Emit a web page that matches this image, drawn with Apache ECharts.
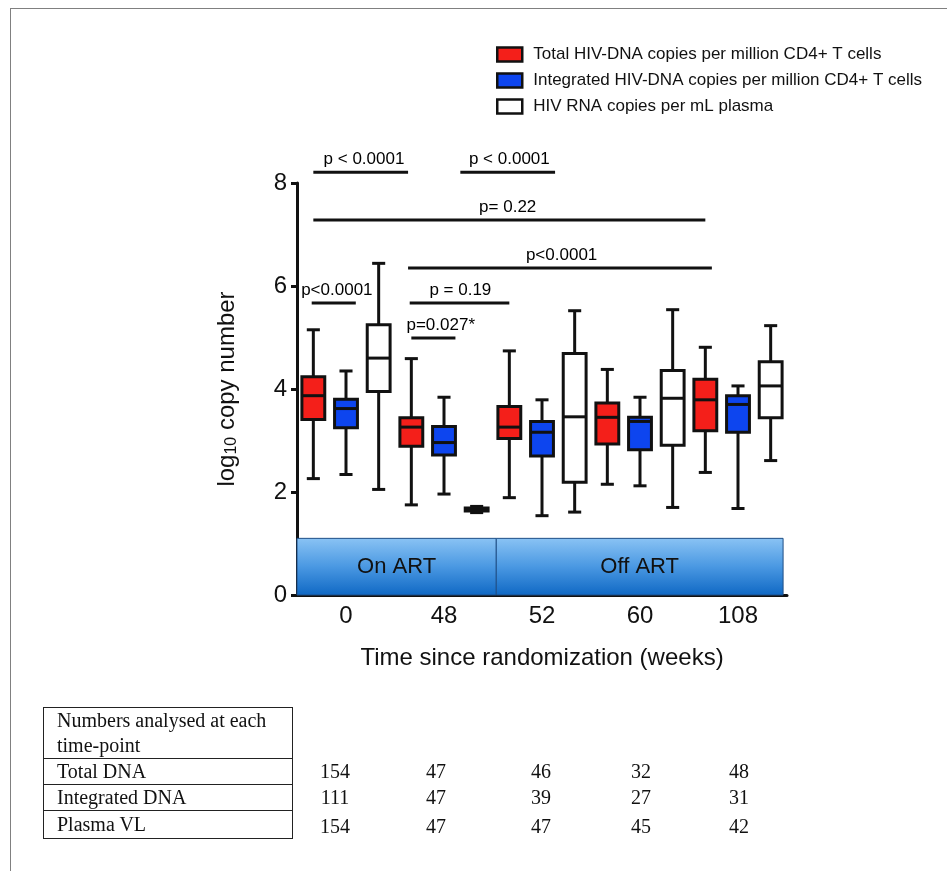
<!DOCTYPE html>
<html>
<head>
<meta charset="utf-8">
<script src="https://cdn.jsdelivr.net/npm/echarts@6/dist/echarts.min.js"></script>
<style>
  html, body { margin: 0; padding: 0; background: #fff; }
  #wrap { position: relative; width: 947px; height: 871px; overflow: hidden; }
  #frame { position: absolute; left: 10px; top: 8px; width: 960px; height: 900px;
           border-left: 1px solid #808080; border-top: 1px solid #808080; }
  #chart { position: absolute; left: 0; top: 0; width: 947px; height: 871px; }
  #tbl { position: absolute; left: 43px; top: 707px; border-collapse: collapse;
         font-family: "Liberation Serif", "Times New Roman", serif; font-size: 20px; color: #111; }
  #tbl td { border: 1.5px solid #222; padding: 0 0 0 13px; width: 235px; line-height: 25px; }
  .num { position: absolute; font-family: "Liberation Serif", "Times New Roman", serif;
         font-size: 20px; color: #111; transform: translate(-50%, -50%); white-space: nowrap; }
</style>
</head>
<body>
<div id="wrap">
  <div id="frame"></div>
  <div id="chart"></div>
</div>
<script>
// ---------------- data ----------------
var categories = ['0', '48', '52', '60', '108'];
// [min, Q1, median, Q3, max] in log10 copies
var totalDNA      = [[2.26,3.41,3.87,4.24,5.15],[1.75,2.89,3.26,3.44,4.59],[1.89,3.04,3.26,3.66,4.74],[2.15,2.93,3.45,3.73,4.38],[2.38,3.19,3.79,4.19,4.81]];
var integratedDNA = [[2.34,3.25,3.62,3.80,4.35],[1.96,2.72,2.96,3.27,3.84],[1.54,2.70,3.16,3.37,3.79],[2.12,2.82,3.37,3.45,3.84],[1.68,3.16,3.70,3.87,4.06]];
var plasmaRNA     = [[2.05,3.95,4.60,5.25,6.44],[1.60,1.63,1.66,1.69,1.72],[1.61,2.19,3.46,4.69,5.52],[1.70,2.91,3.82,4.36,5.54],[2.61,3.44,4.06,4.53,5.23]];
var seriesNames = ['Total HIV-DNA copies per million CD4+ T cells',
                   'Integrated HIV-DNA copies per million CD4+ T cells',
                   'HIV RNA copies per mL plasma'];
var seriesColors = ['#f41f1a', '#0d45ef', '#ffffff'];
var yTicks = [0, 2, 4, 6, 8];
// significance brackets: from/to and label x in box-slot units, level in log10 units
var bracketFrom  = [0, 4.5, 0, 2.9, -0.05, 2.95, 3.0];
var bracketTo    = [2.9, 7.4, 12.0, 12.2, 1.3, 6.0, 4.35];
var bracketLevel = [8.21, 8.21, 7.28, 6.35, 5.67, 5.67, 4.99];
var bracketLabelX = [1.55, 6.0, 5.95, 7.6, 0.72, 4.5, 3.9];
var bracketText  = ['p < 0.0001', 'p < 0.0001', 'p= 0.22', 'p<0.0001', 'p<0.0001', 'p = 0.19', 'p=0.027*'];
// ART phases in slot units (band height in log10 units)
var phaseNames = ['On ART', 'Off ART'];
var phaseFrom = [-0.5, 5.6];
var phaseTo   = [5.6, 14.38];
var phaseTop  = 1.1;
// numbers analysed
var countRowNames = ['Total DNA', 'Integrated DNA', 'Plasma VL'];
var totalCounts      = [154, 47, 46, 32, 48];
var integratedCounts = [111, 47, 39, 27, 31];
var plasmaCounts     = [154, 47, 47, 45, 42];

// ---------------- build ----------------
var typeKeys = ['T', 'I', 'R'];
var slots = [];
categories.forEach(function (c) { typeKeys.forEach(function (k) { slots.push(c + '|' + k); }); });
var allBoxes = [totalDNA, integratedDNA, plasmaRNA];
var BOX_W = 0.7, CAP_W = 0.4, LW = 3;

function renderBox(params, api) {
  var x = api.value(0);
  var unit = api.size([1, 0])[0];
  var bw = unit * BOX_W, cw = unit * CAP_W;
  var lo = api.coord([x, api.value(1)]);
  var q1 = api.coord([x, api.value(2)]);
  var md = api.coord([x, api.value(3)]);
  var q3 = api.coord([x, api.value(4)]);
  var hi = api.coord([x, api.value(5)]);
  var cx = lo[0];
  var stroke = { stroke: '#111', lineWidth: LW };
  var fill = api.visual('color');
  return {
    type: 'group',
    children: [
      { type: 'line', shape: { x1: cx, y1: lo[1], x2: cx, y2: q1[1] }, style: stroke },
      { type: 'line', shape: { x1: cx, y1: q3[1], x2: cx, y2: hi[1] }, style: stroke },
      { type: 'line', shape: { x1: cx - cw / 2, y1: lo[1], x2: cx + cw / 2, y2: lo[1] }, style: stroke },
      { type: 'line', shape: { x1: cx - cw / 2, y1: hi[1], x2: cx + cw / 2, y2: hi[1] }, style: stroke },
      { type: 'rect', shape: { x: cx - bw / 2, y: q3[1], width: bw, height: q1[1] - q3[1] },
        style: { fill: fill, stroke: '#111', lineWidth: LW } },
      { type: 'line', shape: { x1: cx - bw / 2, y1: md[1], x2: cx + bw / 2, y2: md[1] }, style: stroke }
    ]
  };
}

var series = [];
allBoxes.forEach(function (boxes, s) {
  series.push({
    type: 'custom',
    name: seriesNames[s],
    xAxisIndex: 1,
    yAxisIndex: 0,
    renderItem: renderBox,
    encode: { x: 0, y: [1, 2, 3, 4, 5] },
    data: boxes.map(function (b, i) { return [i * 3 + s].concat(b); }),
    itemStyle: { color: seriesColors[s], borderColor: '#111', borderWidth: 3 },
    silent: true,
    z: 3
  });
});

// phases band
series.push({
  type: 'line', name: 'phases', xAxisIndex: 1, yAxisIndex: 0,
  data: [], symbol: 'none', silent: true,
  markArea: {
    silent: true,
    data: phaseNames.map(function (n, i) {
      return [{ name: n, coord: [phaseFrom[i], 0] }, { coord: [phaseTo[i], phaseTop] }];
    }),
    itemStyle: {
      color: new echarts.graphic.LinearGradient(0, 0, 0, 1, [
        { offset: 0, color: '#8ac3f4' }, { offset: 0.5, color: '#4a98e2' }, { offset: 1, color: '#0f68c4' }
      ]),
      borderColor: '#1f4f86', borderWidth: 1
    },
    label: { show: true, position: 'inside', fontSize: 22, color: '#111', fontFamily: 'Liberation Sans, Arial, sans-serif' }
  }
});

// brackets
bracketFrom.forEach(function (f, i) {
  series.push({
    type: 'line', name: 'b' + i, xAxisIndex: 1, yAxisIndex: 0,
    data: [[f, bracketLevel[i]], [bracketTo[i], bracketLevel[i]]],
    symbol: 'none', silent: true, clip: false,
    lineStyle: { color: '#111', width: 3 }, z: 4
  });
});
series.push({
  type: 'scatter', name: 'bracketLabels', xAxisIndex: 1, yAxisIndex: 0,
  symbolSize: 0, silent: true, clip: false,
  itemStyle: { opacity: 1 },
  data: bracketText.map(function (t, i) { return [bracketLabelX[i], bracketLevel[i], t]; }),
  label: {
    show: true, position: 'top', distance: 4, fontSize: 17, color: '#000',
    fontFamily: 'Liberation Sans, Arial, sans-serif',
    formatter: function (p) { return p.data[2]; }
  }, z: 5
});

var font = 'Liberation Sans, Arial, sans-serif';

var option = {
  animation: false,
  textStyle: { fontFamily: font },
  legend: {
    left: 491, top: 41, orient: 'vertical', icon: 'rect',
    itemWidth: 25, itemHeight: 14, itemGap: 9, selectedMode: false,
    textStyle: { fontSize: 17, color: '#111', fontFamily: font, padding: [0, 0, 0, 6] },
    data: seriesNames.map(function (n, i) {
      return { name: n, itemStyle: { color: seriesColors[i], borderColor: '#111', borderWidth: 2.5 } };
    })
  },
  grid: { left: 297, right: 160, top: 183, bottom: 276, containLabel: false },
  xAxis: [{
    type: 'category', data: slots, gridIndex: 0, boundaryGap: true,
    axisLine: { onZero: false, lineStyle: { color: '#111', width: 3 } },
    axisTick: { show: false },
    axisLabel: {
      interval: 0, fontSize: 24, color: '#111', margin: 9, fontFamily: font,
      formatter: function (v) { return v.split('|')[1] === 'I' ? v.split('|')[0] : ''; }
    },
    name: 'Time since randomization (weeks)',
    nameLocation: 'middle', nameGap: 51,
    nameTextStyle: { fontSize: 24, color: '#111', fontFamily: font },
    splitLine: { show: false }
  }, {
    type: 'value', gridIndex: 0, show: false, min: -0.5, max: 14.5
  }],
  yAxis: [{
    type: 'value', min: yTicks[0], max: yTicks[yTicks.length - 1], interval: yTicks[1] - yTicks[0],
    axisLine: { show: true, onZero: false, lineStyle: { color: '#111', width: 3 } },
    axisTick: { show: true, length: 6, lineStyle: { color: '#111', width: 3 } },
    axisLabel: { fontSize: 24, color: '#111', margin: 10, fontFamily: font },
    splitLine: { show: false },
    name: '{a|log}{sub|10}{a| copy number}',
    nameLocation: 'middle', nameGap: 57, nameRotate: 90,
    nameTextStyle: {
      color: '#111', fontFamily: font,
      rich: {
        a: { fontSize: 24, color: '#111', fontFamily: font },
        sub: { fontSize: 16, color: '#111', fontFamily: font, padding: [10, 0, 0, 0] }
      }
    }
  }],
  series: series
};

var chart = echarts.init(document.getElementById('chart'), null, { renderer: 'canvas' });
chart.setOption(option);

// ---------------- numbers table ----------------
var wrap = document.getElementById('wrap');
var tbl = document.createElement('table');
tbl.id = 'tbl';
var hdr = tbl.insertRow();
var hc = hdr.insertCell(); hc.innerHTML = 'Numbers analysed at each<br>time-point'; hc.style.height = '48px';
countRowNames.forEach(function (n, i) {
  var r = tbl.insertRow(); var c = r.insertCell(); c.textContent = n;
  c.style.height = (i === 2 ? 27 : 25) + 'px';
});
wrap.appendChild(tbl);

var countCols = [335, 436, 541, 641, 739];
var countRowY = [771, 797, 826];
[totalCounts, integratedCounts, plasmaCounts].forEach(function (row, r) {
  row.forEach(function (v, c) {
    var d = document.createElement('div');
    d.className = 'num'; d.textContent = String(v);
    d.style.left = countCols[c] + 'px'; d.style.top = countRowY[r] + 'px';
    wrap.appendChild(d);
  });
});
</script>
</body>
</html>
